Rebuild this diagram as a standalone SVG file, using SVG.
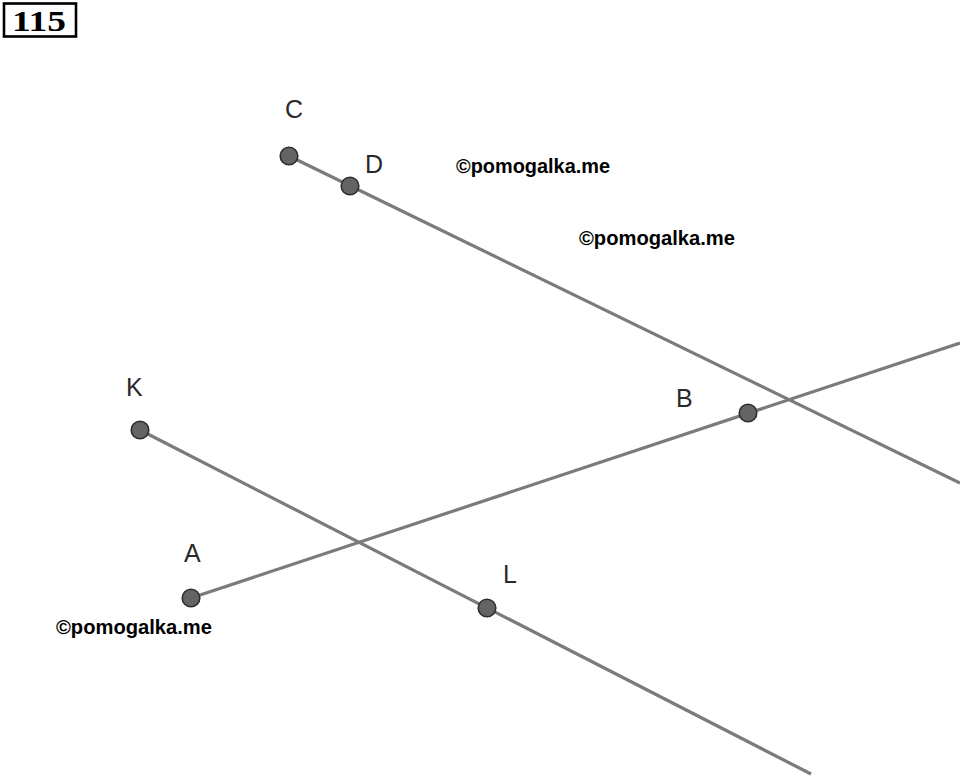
<svg xmlns="http://www.w3.org/2000/svg" width="960" height="776" viewBox="0 0 960 776">
<style>
.ln{stroke:#7b7b7b;stroke-width:3.2;fill:none;stroke-linecap:butt}
.pt{fill:#646464;stroke:#2e2e2e;stroke-width:1.6}
.lb{font-family:"Liberation Sans",Arial,sans-serif;font-size:25px;fill:#2a2a2a}
.wm{font-family:"Liberation Sans",Arial,sans-serif;font-size:20px;font-weight:bold;fill:#000}
</style>
<rect width="960" height="776" fill="#fff"/>
<g id="title">
<rect x="4" y="3.5" width="72" height="33" fill="#fff" stroke="#000" stroke-width="2.6"/>
<text x="12" y="31" font-family="Liberation Serif,serif" font-weight="bold" font-size="30" textLength="54" lengthAdjust="spacingAndGlyphs" fill="#000">115</text>
</g>
<g id="connectors">
<line class="ln" x1="289" y1="156" x2="960" y2="483"/>
<line class="ln" x1="191" y1="598" x2="960" y2="343"/>
<line class="ln" x1="140" y1="430" x2="811" y2="774"/>
</g>
<g id="C"><circle class="pt" cx="289" cy="156" r="8.8"/><text class="lb" x="285" y="118">C</text></g>
<g id="D"><circle class="pt" cx="350" cy="186" r="8.8"/><text class="lb" x="365" y="173">D</text></g>
<g id="K"><circle class="pt" cx="140" cy="430" r="8.8"/><text class="lb" x="126" y="396">K</text></g>
<g id="A"><circle class="pt" cx="191" cy="598" r="8.8"/><text class="lb" x="184" y="562">A</text></g>
<g id="B"><circle class="pt" cx="748" cy="413" r="8.8"/><text class="lb" x="676" y="407">B</text></g>
<g id="L"><circle class="pt" cx="487" cy="608" r="8.8"/><text class="lb" x="503" y="583">L</text></g>
<g id="watermarks">
<text class="wm" x="456" y="173" textLength="154" lengthAdjust="spacingAndGlyphs">©pomogalka.me</text>
<text class="wm" x="579" y="245" textLength="156" lengthAdjust="spacingAndGlyphs">©pomogalka.me</text>
<text class="wm" x="56" y="634" textLength="156" lengthAdjust="spacingAndGlyphs">©pomogalka.me</text>
</g>
</svg>
